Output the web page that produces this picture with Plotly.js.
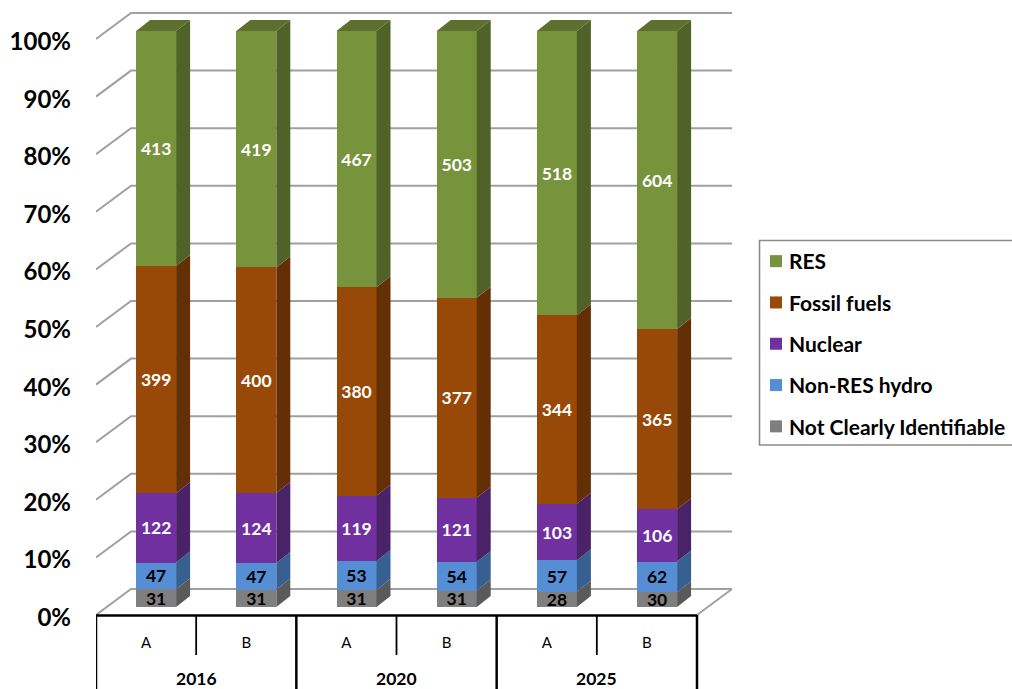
<!DOCTYPE html>
<html><head><meta charset="utf-8">
<script src="https://cdn.plot.ly/plotly-3.0.1.min.js"></script>
<style>html,body{margin:0;padding:0;background:#fff}</style></head>
<body><div id="chart" style="width:1012px;height:689px"></div>
<script>
const years = ["2016","2020","2025"];
const scenarios = ["A","B","A","B","A","B"];
const notClear = [31,31,31,31,28,30];
const hydro = [47,47,53,54,57,62];
const nuclear = [122,124,119,121,103,106];
const fossil = [399,400,380,377,344,365];
const res = [413,419,467,503,518,604];
const seriesNames = ["Not Clearly Identifiable","Non-RES hydro","Nuclear","Fossil fuels","RES"];
const seriesValues = [notClear,hydro,nuclear,fossil,res];
const frontColors = ["#7F7F7F","#558ED5","#7030A0","#984807","#77933C"];
const sideColors = ["#5A5A5A","#376092","#4A2268","#642F05","#4F6228"];
const labelColors = ["#000000","#000000","#ffffff","#ffffff","#ffffff"];
const topColor = "#5F702E";
const yTicks = [0,10,20,30,40,50,60,70,80,90,100];

const W=1012,H=689, FONT="Lato, 'Noto Sans', sans-serif";
const pxX=x=>x/W, pxY=y=>1-y/H;
// frame subplot: 96..697 px = 0..6. Tick labels sit a little below the front-plane line.
const uF=601/6, uY=5.76, labelPx=617.5, planePx=615;
const shift=(labelPx-planePx)/uY;
const frameRange=[0,(770-96)/uF], frameYRange=[0,(labelPx-4)/uY];
const wallDx=35/uF, wallDy=26/uY;
// bar subplot
const uB=100.2;
const barX0=106, barRange=[-0.5,5.7], barYRange=[-1,103];
const bw=40/uB, depthX=14/uB, depthY=11/uY;

const xs=scenarios.map((_,i)=>i);
const totals=xs.map(i=>seriesValues.reduce((s,a)=>s+a[i],0));

const traces=[];
// wall and floor lines
const gx=[],gy=[];
yTicks.forEach(t=>{gx.push(0,wallDx,6+wallDx,null);gy.push(t+shift,t+shift+wallDy,t+shift+wallDy,null);});
gx.push(6,6+wallDx);gy.push(shift,shift+wallDy);
traces.push({type:"scatter",mode:"lines",x:gx,y:gy,xaxis:"x",yaxis:"y",
  line:{color:"#A0A0A0",width:2},showlegend:false,hoverinfo:"skip"});

// stacked front faces
seriesNames.forEach((n,k)=>{
  traces.push({type:"bar",name:n,x:xs,y:seriesValues[k],xaxis:"x2",yaxis:"y2",width:bw,
    legendgroup:n,legendrank:seriesNames.length-k,marker:{color:frontColors[k],line:{width:0}},
    text:seriesValues[k].map(String),textposition:"inside",insidetextanchor:"middle",
    textangle:0,constraintext:"none",
    textfont:{family:FONT,size:17.5,color:labelColors[k],weight:"bold"},hoverinfo:"name+y"});
});
// side faces, derived from the stack
const cum=xs.map(()=>0);
seriesNames.forEach((n,k)=>{
  const px=[],py=[];
  xs.forEach(i=>{
    const a=cum[i]/totals[i]*100, b=(cum[i]+seriesValues[k][i])/totals[i]*100;
    const r=i+bw/2;
    px.push(r,r+depthX,r+depthX,r,r,null);
    py.push(a,a+depthY,b+depthY,b,a,null);
    cum[i]+=seriesValues[k][i];
  });
  traces.push({type:"scatter",mode:"lines",x:px,y:py,xaxis:"x2",yaxis:"y2",fill:"toself",
    fillcolor:sideColors[k],line:{width:0,color:sideColors[k]},showlegend:false,hoverinfo:"skip"});
});
// top face
const tx=[],ty=[];
xs.forEach(i=>{const l=i-bw/2,r=i+bw/2;tx.push(l,r,r+depthX,l+depthX,l,null);ty.push(100,100,100+depthY,100+depthY,100,null);});
traces.push({type:"scatter",mode:"lines",x:tx,y:ty,xaxis:"x2",yaxis:"y2",fill:"toself",
  fillcolor:topColor,line:{width:0,color:topColor},showlegend:false,hoverinfo:"skip"});

// category dividers
const shapes=[];
const line=(x0,y0,x1,y1,w)=>({type:"line",xref:"x",yref:"paper",x0,x1,y0,y1,line:{color:"#000",width:w},layer:"above"});
shapes.push(line(0,pxY(615.5),6,pxY(615.5),2.5));
scenarios.forEach((_,i)=>{ if(i%2===1) shapes.push(line(i,pxY(615),i,pxY(655),1.8)); });
for(let i=0;i<=6;i+=2) shapes.push(line(i,pxY(615),i,0,2.5));
// legend box
shapes.push({type:"rect",xref:"paper",yref:"paper",x0:pxX(759.5),x1:pxX(1030),y0:pxY(445),y1:pxY(240.5),
  line:{color:"#8C8C8C",width:1.6},fillcolor:"rgba(0,0,0,0)",layer:"below"});

const annotations=years.map((y,i)=>({text:y,xref:"x",yref:"paper",x:2*i+1,y:pxY(678),
  showarrow:false,xanchor:"center",yanchor:"middle",font:{family:FONT,size:17.5,color:"#000",weight:"bold"}}));

const layout={
  width:W,height:H,margin:{l:0,r:0,t:0,b:0},autosize:false,
  paper_bgcolor:"#fff",plot_bgcolor:"rgba(0,0,0,0)",
  barmode:"stack",barnorm:"percent",
  xaxis:{domain:[pxX(96),pxX(770)],range:frameRange,anchor:"y",showgrid:false,zeroline:false,showline:false,
    tickmode:"array",tickvals:xs.map(i=>i+0.5),ticktext:scenarios,ticks:"",ticklabelstandoff:14,
    tickfont:{family:FONT,size:15,color:"#000"}},
  yaxis:{domain:[pxY(labelPx),pxY(4)],range:frameYRange,anchor:"x",showgrid:false,zeroline:false,showline:false,
    tickmode:"array",tickvals:yTicks,ticktext:yTicks.map(t=>t+"%"),ticks:"",ticklabelstandoff:24,
    tickfont:{family:FONT,size:24,color:"#000",weight:"bold"}},
  xaxis2:{domain:[pxX(barX0),pxX(barX0+6.2*uB)],range:barRange,anchor:"y2",visible:false},
  yaxis2:{domain:[pxY(607+uY),pxY(31-3*uY)],range:barYRange,anchor:"x2",visible:false},
  legend:{x:pxX(749),y:pxY(241),xanchor:"left",yanchor:"top",orientation:"v",
    traceorder:"grouped",tracegroupgap:11,borderwidth:0,bgcolor:"rgba(0,0,0,0)",
    font:{family:FONT,size:21,color:"#000",weight:"bold"}},
  shapes,annotations,showlegend:true
};
Plotly.newPlot("chart",traces,layout,{displayModeBar:false,responsive:false}).then(()=>{
  document.querySelectorAll("#chart .legendsymbols").forEach(g=>g.setAttribute("transform","translate(7,0)"));
});
</script></body></html>
